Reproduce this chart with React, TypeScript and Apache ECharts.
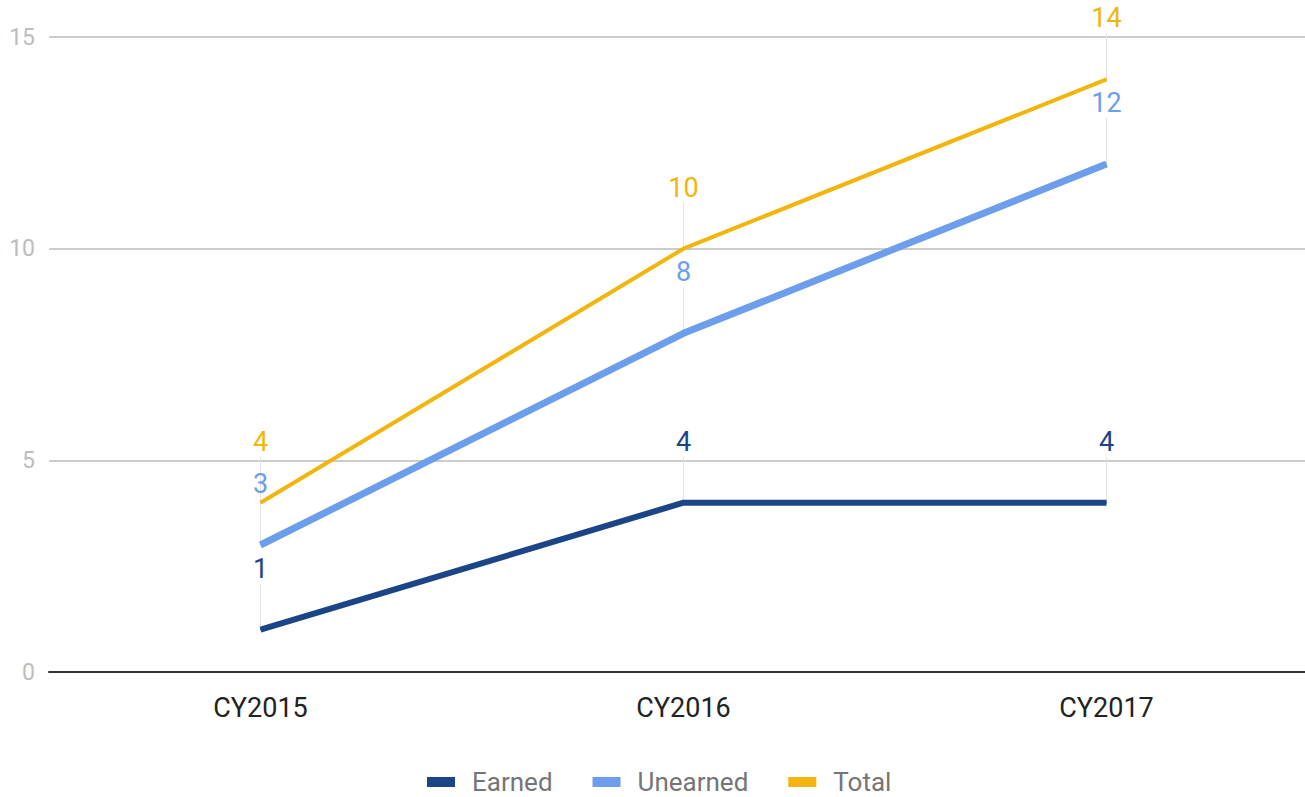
import React, { useEffect, useRef } from "react";
import * as echarts from "echarts";

const categories = ["CY2015", "CY2016", "CY2017"];
const earned = [1, 4, 4];
const unearned = [3, 8, 12];
const total = [4, 10, 14];
const yTicks = { min: 0, max: 15, interval: 5 };

const seriesDefs = [
  { name: "Earned", data: earned, color: "#1c4587", width: 6 },
  { name: "Unearned", data: unearned, color: "#6d9eeb", width: 7 },
  { name: "Total", data: total, color: "#f1b50d", width: 4 },
];

export default function App() {
  const ref = useRef<HTMLDivElement>(null);
  useEffect(() => {
    document.body.style.margin = "0";
    document.body.style.overflow = "hidden";
    const chart = echarts.init(ref.current!, null, { renderer: "svg" });
    const stemData: number[][] = [];
    seriesDefs.forEach((s) => s.data.forEach((v, i) => stemData.push([i, v])));
    chart.setOption({
      animation: false,
      textStyle: { fontFamily: "Roboto" },
      grid: { left: 49, top: 37, right: 0, bottom: 125, containLabel: false },
      legend: {
        data: seriesDefs.map((s) => s.name),
        top: 764,
        left: 422,
        itemWidth: 28,
        itemHeight: 10,
        itemGap: 40,
        icon: "rect",
        textStyle: {
          fontSize: 26,
          color: "#757575",
          fontFamily: "Roboto",
          lineHeight: 26,
          padding: [0, 0, 0, 12],
        },
      },
      xAxis: {
        type: "category",
        data: categories,
        boundaryGap: true,
        axisTick: { show: false },
        axisLine: { show: true, lineStyle: { color: "#333333", width: 2 } },
        axisLabel: { fontSize: 27, color: "#222222", margin: 22, fontFamily: "Roboto" },
        splitLine: { show: false },
      },
      yAxis: {
        type: "value",
        min: yTicks.min,
        max: yTicks.max,
        interval: yTicks.interval,
        axisLine: { show: false },
        axisTick: { show: false },
        axisLabel: { fontSize: 23, color: "#bdbdbd", margin: 14, fontFamily: "Roboto" },
        splitLine: { lineStyle: { color: "#cccccc", width: 2 } },
      },
      series: [
        {
          type: "custom",
          name: "stems",
          z: 1,
          silent: true,
          data: stemData,
          renderItem: (params: any, api: any) => {
            const p = api.coord([api.value(0), api.value(1)]);
            return {
              type: "line",
              shape: { x1: p[0], y1: p[1], x2: p[0], y2: p[1] - 46 },
              style: { stroke: "#e3e3e3", lineWidth: 1 },
            };
          },
        },
        ...seriesDefs.map((s) => ({
          type: "line",
          name: s.name,
          data: s.data,
          z: 3,
          symbol: "circle",
          symbolSize: 1,
          showSymbol: true,
          color: s.color,
          itemStyle: { color: s.color },
          lineStyle: { color: s.color, width: s.width },
          label: {
            show: true,
            position: "top",
            distance: 47,
            fontSize: 27,
            color: s.color,
            fontFamily: "Roboto",
          },
        })),
      ],
    });
    return () => chart.dispose();
  }, []);
  return <div ref={ref} style={{ width: "1318px", height: "797px" }} />;
}
